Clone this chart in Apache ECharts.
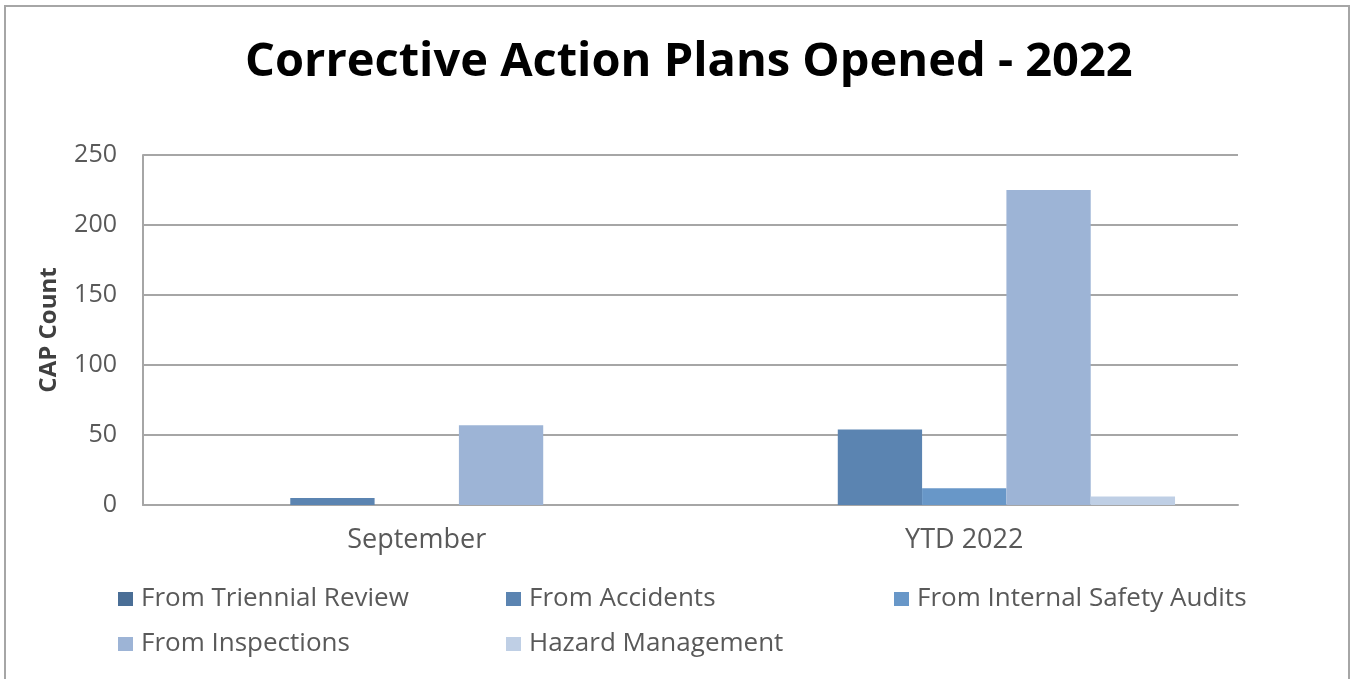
<!DOCTYPE html>
<html>
<head>
<meta charset="utf-8">
<script src="https://cdn.jsdelivr.net/npm/echarts@6/dist/echarts.min.js"></script>
<style>
  html, body { margin: 0; padding: 0; background: #fff; }
  #main { width: 1352px; height: 679px; }
</style>
</head>
<body>
<div id="main"></div>
<script>
// data
var categories = ['September', 'YTD 2022'];
var seriesNames = ['From Triennial Review', 'From Accidents', 'From Internal Safety Audits', 'From Inspections', 'Hazard Management'];
var triennial = [0, 0];
var accidents = [5, 54];
var internalAudits = [0, 12];
var inspections = [57, 225];
var hazard = [0, 6];
var yTicks = [0, 50, 100, 150, 200, 250];

var colors = ['#4a6e96', '#5b84b1', '#6897c8', '#9db4d6', '#bfcfe5'];
var values = [triennial, accidents, internalAudits, inspections, hazard];
var font = '"Open Sans", "Liberation Sans", sans-serif';
var textColor = '#595959';

var myChart = echarts.init(document.getElementById('main'));

// legend in a 3-column grid, one legend component per item
var legendPos = [[118, 586], [506, 586], [894, 586], [118, 631], [506, 631]];
var legends = seriesNames.map(function (name, i) {
    return {
        data: [name],
        left: legendPos[i][0],
        top: legendPos[i][1],
        padding: 0,
        itemWidth: 15,
        itemHeight: 14,
        icon: 'rect',
        selectedMode: false,
        textStyle: { color: textColor, fontSize: 26, fontFamily: font, padding: [0, 0, 0, 3] }
    };
});

var option = {
    animation: false,
    color: colors,
    title: {
        text: 'Corrective Action Plans Opened - 2022',
        left: 240,
        top: 34,
        textStyle: {
            color: '#000',
            fontSize: 47,
            fontWeight: 'bold',
            fontFamily: font
        }
    },
    legend: legends,
    grid: { left: 143, right: 114, top: 155, bottom: 174, containLabel: false },
    xAxis: {
        type: 'category',
        data: categories,
        axisLine: { lineStyle: { color: '#a6a6a6', width: 2 } },
        axisTick: { show: false },
        axisLabel: { color: textColor, fontSize: 27, fontFamily: font, margin: 22 }
    },
    yAxis: {
        type: 'value',
        min: 0,
        max: 250,
        interval: 50,
        name: 'CAP Count',
        nameLocation: 'middle',
        nameGap: 82,
        nameTextStyle: { color: '#404040', fontSize: 24, fontWeight: 'bold', fontFamily: font },
        axisLine: { show: true, lineStyle: { color: '#a6a6a6', width: 2 } },
        axisTick: { show: false },
        axisLabel: {
            color: textColor, fontSize: 25, fontFamily: font, margin: 26,
            formatter: function (v) { return yTicks.indexOf(v) >= 0 ? String(v) : ''; }
        },
        splitLine: { lineStyle: { color: '#a6a6a6', width: 2 } }
    },
    graphic: [{
        type: 'rect',
        shape: { x: 5, y: 6, width: 1344, height: 700 },
        style: { fill: 'none', stroke: '#a6a6a6', lineWidth: 2 },
        silent: true
    }],
    series: seriesNames.map(function (name, i) {
        return {
            name: name,
            type: 'bar',
            data: values[i],
            barGap: '0%',
            barCategoryGap: '23%'
        };
    })
};

myChart.setOption(option);
</script>
</body>
</html>
